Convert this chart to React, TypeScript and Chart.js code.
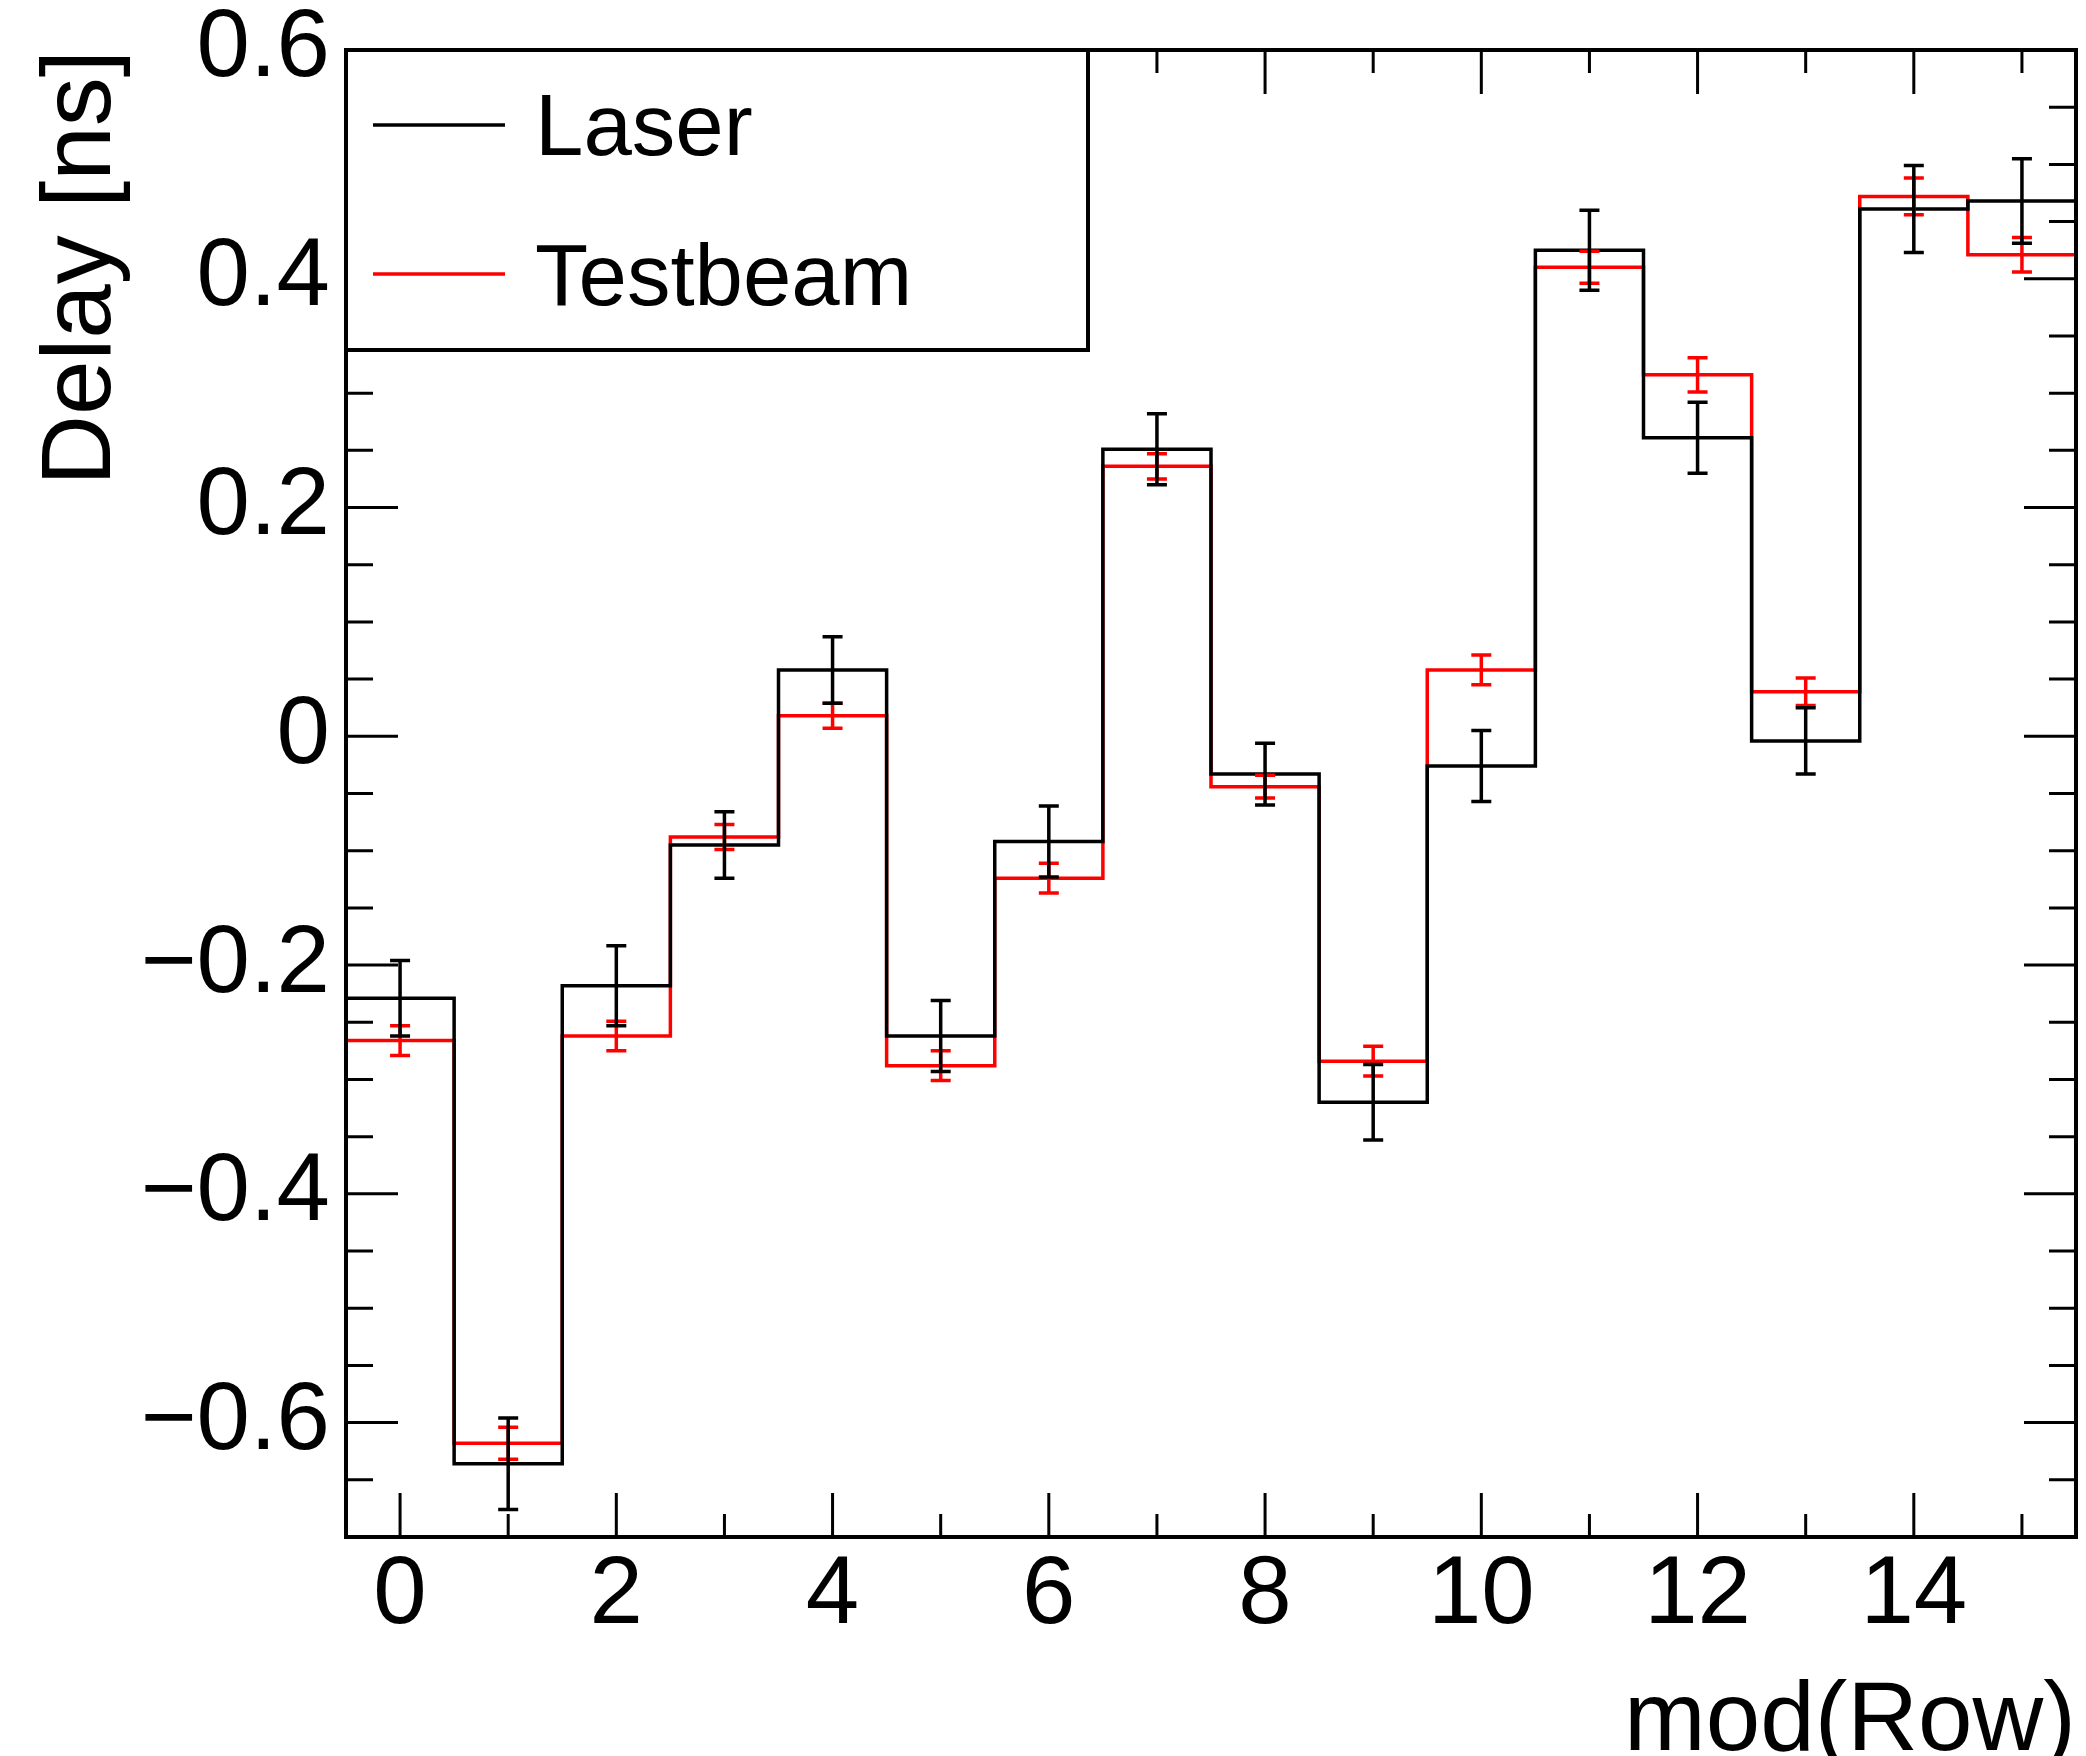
import { useEffect, useRef } from 'react';
import { Chart, registerables } from 'chart.js';

Chart.register(...registerables);

// Row index (bin centres) of the histogram
const rows = [0, 1, 2, 3, 4, 5, 6, 7, 8, 9, 10, 11, 12, 13, 14, 15];

// Delay per row [ns] and its uncertainty
const laserDelay = [-0.229, -0.636, -0.218, -0.095, 0.058, -0.262, -0.092, 0.251, -0.033, -0.320, -0.026, 0.425, 0.261, -0.004, 0.461, 0.468];
const laserErr = [0.033, 0.040, 0.035, 0.029, 0.029, 0.031, 0.031, 0.031, 0.027, 0.033, 0.031, 0.035, 0.031, 0.029, 0.038, 0.037];
const testbeamDelay = [-0.266, -0.618, -0.262, -0.088, 0.018, -0.288, -0.124, 0.236, -0.044, -0.284, 0.058, 0.410, 0.316, 0.039, 0.472, 0.421];
const testbeamErr = [0.013, 0.014, 0.013, 0.011, 0.011, 0.013, 0.013, 0.011, 0.010, 0.013, 0.013, 0.014, 0.015, 0.012, 0.016, 0.015];

// Axis labelling
const xTickLabels = [0, 2, 4, 6, 8, 10, 12, 14];
const yTickLabels = [-0.6, -0.4, -0.2, 0, 0.2, 0.4, 0.6];
const xTitle = 'mod(Row)';
const yTitle = 'Delay [ns]';
const seriesNames = ['Laser', 'Testbeam'];

const FONT = '"Liberation Sans", Arial, Helvetica, sans-serif';
const W = 2086;
const H = 1756;

// Histogram outline: every bin spans row - 0.5 .. row + 0.5
function stepPoints(values: number[]) {
  const pts: { x: number; y: number }[] = [];
  rows.forEach((r, i) => {
    pts.push({ x: r - 0.5, y: values[i] });
    pts.push({ x: r + 0.5, y: values[i] });
  });
  return pts;
}

function fmtY(v: number) {
  if (Math.abs(v) < 1e-9) return '0';
  return (v < 0 ? '\u2212' : '') + Math.abs(v).toFixed(1);
}

const errorBarPlugin = {
  id: 'errorBars',
  afterDatasetsDraw(chart: any) {
    const { ctx, chartArea, scales } = chart;
    const xs = scales.x;
    const ys = scales.y;
    const sets = [
      { vals: testbeamDelay, errs: testbeamErr, color: '#ff0000' },
      { vals: laserDelay, errs: laserErr, color: '#000000' },
    ];
    ctx.save();
    ctx.beginPath();
    ctx.rect(chartArea.left, chartArea.top, chartArea.right - chartArea.left, chartArea.bottom - chartArea.top);
    ctx.clip();
    ctx.lineCap = 'butt';
    for (const s of sets) {
      ctx.strokeStyle = s.color;
      ctx.lineWidth = 3.5;
      rows.forEach((r, i) => {
        const px = xs.getPixelForValue(r);
        const yHi = ys.getPixelForValue(s.vals[i] + s.errs[i]);
        const yLo = ys.getPixelForValue(s.vals[i] - s.errs[i]);
        ctx.beginPath();
        ctx.moveTo(px, yHi);
        ctx.lineTo(px, yLo);
        ctx.moveTo(px - 10, yHi);
        ctx.lineTo(px + 10, yHi);
        ctx.moveTo(px - 10, yLo);
        ctx.lineTo(px + 10, yLo);
        ctx.stroke();
      });
    }
    ctx.restore();
  },
};

const framePlugin = {
  id: 'frameAndLegend',
  afterDraw(chart: any) {
    const { ctx, chartArea, scales } = chart;
    const { left, right, top, bottom } = chartArea;
    const xs = scales.x;
    const ys = scales.y;
    ctx.save();
    ctx.strokeStyle = '#000';
    ctx.lineWidth = 3;
    ctx.lineCap = 'butt';

    // y ticks every 0.05, long ones at multiples of 0.2, on both sides
    ctx.beginPath();
    for (let k = -14; k <= 12; k++) {
      const v = k * 0.05;
      const py = ys.getPixelForValue(v);
      const major = k % 4 === 0;
      const len = major ? 52 : 27;
      ctx.moveTo(left, py);
      ctx.lineTo(left + len, py);
      ctx.moveTo(right, py);
      ctx.lineTo(right - len, py);
    }
    // x ticks at every row, long ones at even rows, on both sides
    rows.forEach((r) => {
      const px = xs.getPixelForValue(r);
      const len = r % 2 === 0 ? 44 : 23;
      ctx.moveTo(px, bottom);
      ctx.lineTo(px, bottom - len);
      ctx.moveTo(px, top);
      ctx.lineTo(px, top + len);
    });
    ctx.stroke();

    // legend box
    const lx0 = left;
    const ly0 = top;
    const lx1 = 1088;
    const ly1 = 350;
    ctx.fillStyle = '#fff';
    ctx.fillRect(lx0, ly0, lx1 - lx0, ly1 - ly0);
    ctx.lineWidth = 4;
    ctx.strokeRect(lx0, ly0, lx1 - lx0, ly1 - ly0);
    const entryY = [125, 274];
    const baseY = [155, 305];
    chart.data.datasets.forEach((ds: any, i: number) => {
      ctx.strokeStyle = ds.borderColor;
      ctx.lineWidth = 3.5;
      ctx.beginPath();
      ctx.moveTo(373, entryY[i]);
      ctx.lineTo(505, entryY[i]);
      ctx.stroke();
      ctx.fillStyle = '#000';
      ctx.font = `87px ${FONT}`;
      ctx.textAlign = 'left';
      ctx.textBaseline = 'alphabetic';
      ctx.fillText(ds.label, 535, baseY[i]);
    });

    // frame
    ctx.strokeStyle = '#000';
    ctx.lineWidth = 4;
    ctx.strokeRect(left, top, right - left, bottom - top);

    // axis titles
    ctx.fillStyle = '#000';
    ctx.font = `98px ${FONT}`;
    ctx.textBaseline = 'alphabetic';
    ctx.textAlign = 'right';
    ctx.fillText(xTitle, right, 1750);
    ctx.save();
    ctx.translate(110, top);
    ctx.rotate(-Math.PI / 2);
    ctx.textAlign = 'right';
    ctx.fillText(yTitle, 0, 0);
    ctx.restore();

    ctx.restore();
  },
};

export default function App() {
  const canvasRef = useRef<HTMLCanvasElement | null>(null);

  useEffect(() => {
    const canvas = canvasRef.current;
    if (!canvas) return;
    const chart = new Chart(canvas, {
      type: 'line',
      data: {
        datasets: [
          {
            label: seriesNames[0],
            data: stepPoints(laserDelay),
            borderColor: '#000000',
            borderWidth: 3.5,
            pointRadius: 0,
            tension: 0,
            fill: false,
          },
          {
            label: seriesNames[1],
            data: stepPoints(testbeamDelay),
            borderColor: '#ff0000',
            borderWidth: 3.5,
            pointRadius: 0,
            tension: 0,
            fill: false,
          },
        ],
      },
      options: {
        responsive: false,
        devicePixelRatio: 1,
        animation: false,
        layout: { padding: { top: 50, right: 10, left: 0, bottom: 0 } },
        plugins: { legend: { display: false }, tooltip: { enabled: false } },
        scales: {
          x: {
            type: 'linear',
            min: -0.5,
            max: 15.5,
            grid: { display: false, drawTicks: false },
            border: { display: false },
            afterBuildTicks: (s: any) => {
              s.ticks = xTickLabels.map((v) => ({ value: v }));
            },
            afterFit: (s: any) => {
              s.height = 219;
              s.paddingLeft = 0;
              s.paddingRight = 0;
            },
            ticks: {
              autoSkip: false,
              maxRotation: 0,
              padding: 12,
              color: '#000',
              font: { family: FONT, size: 96, lineHeight: 1.0 },
              callback: (v: any) => String(v),
            },
          },
          y: {
            type: 'linear',
            min: -0.7,
            max: 0.6,
            grid: { display: false, drawTicks: false },
            border: { display: false },
            afterBuildTicks: (s: any) => {
              s.ticks = yTickLabels.map((v) => ({ value: v }));
            },
            afterFit: (s: any) => {
              s.width = 346;
              s.paddingTop = 0;
              s.paddingBottom = 0;
            },
            ticks: {
              padding: 16,
              color: '#000',
              font: { family: FONT, size: 96, lineHeight: 1.0 },
              callback: (v: any) => fmtY(Number(v)),
            },
          },
        },
      },
      plugins: [errorBarPlugin, framePlugin],
    });
    return () => chart.destroy();
  }, []);

  return (
    <div style={{ position: 'absolute', left: 0, top: 0, width: W, height: H, background: '#fff' }}>
      <canvas ref={canvasRef} width={W} height={H} style={{ width: W, height: H, display: 'block' }} />
    </div>
  );
}
